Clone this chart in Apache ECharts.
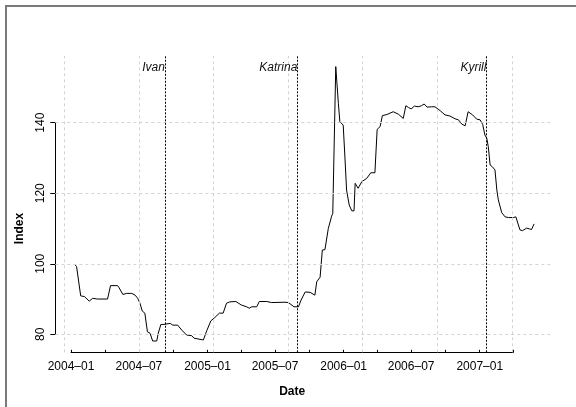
<!DOCTYPE html>
<html><head><meta charset="utf-8">
<script src="https://cdn.jsdelivr.net/npm/echarts@6/dist/echarts.min.js"></script>
<style>html,body{margin:0;padding:0;background:#fff}#c{width:576px;height:407px}</style>
</head><body><div id="c"></div>
<script>
// ---- data ----
const dates = [
 '2004-01-10','2004-01-16','2004-01-27','2004-02-06','2004-02-19','2004-02-28','2004-03-12','2004-04-08',
 '2004-04-16','2004-05-05','2004-05-09','2004-05-19','2004-05-29','2004-06-12','2004-06-21','2004-06-28',
 '2004-07-04','2004-07-10','2004-07-17','2004-07-24','2004-07-31','2004-08-07','2004-08-18','2004-08-22',
 '2004-08-29','2004-09-06','2004-09-23','2004-09-30','2004-10-13','2004-10-24','2004-11-06','2004-11-20',
 '2004-11-26','2004-12-21','2004-12-30','2005-01-10','2005-01-21','2005-02-02','2005-02-12','2005-02-21',
 '2005-03-02','2005-03-18','2005-04-02','2005-04-16','2005-04-23','2005-04-30','2005-05-13','2005-05-20',
 '2005-06-09','2005-06-22','2005-07-28','2005-08-06','2005-08-21','2005-09-02','2005-09-09','2005-09-20',
 '2005-10-03','2005-10-16','2005-10-21','2005-10-30','2005-11-05','2005-11-12','2005-11-21','2005-11-30',
 '2005-12-03','2005-12-11','2005-12-18','2005-12-22','2005-12-31','2006-01-05','2006-01-09','2006-01-16',
 '2006-01-23','2006-01-29','2006-02-01','2006-02-09','2006-02-19','2006-03-04','2006-03-15','2006-03-26',
 '2006-04-01','2006-04-09','2006-04-15','2006-04-27','2006-05-14','2006-05-28','2006-06-10','2006-06-17',
 '2006-06-24','2006-07-01','2006-07-10','2006-07-20','2006-07-29','2006-08-05','2006-08-13','2006-08-25',
 '2006-09-03','2006-09-17','2006-09-30','2006-10-13','2006-10-27','2006-11-05','2006-11-14','2006-11-23',
 '2006-12-01','2006-12-13','2006-12-24','2007-01-02','2007-01-09','2007-01-15','2007-01-20','2007-01-24',
 '2007-01-29','2007-02-04','2007-02-11','2007-02-16','2007-02-20','2007-02-24','2007-03-01','2007-03-10',
 '2007-03-19','2007-04-01','2007-04-08','2007-04-13','2007-04-19','2007-04-26','2007-05-07','2007-05-14',
 '2007-05-20','2007-05-27'
];
const values = [
 99.9, 99.2, 90.9, 90.7, 89.4, 90.2, 90.0, 90.0,
 93.8, 93.8, 93.2, 91.3, 91.6, 91.6, 91.1, 90.2,
 88.8, 86.6, 86.0, 80.7, 80.3, 78.1, 78.1, 80.3,
 82.8, 82.8, 83.1, 82.6, 82.6, 81.2, 79.8, 79.6,
 78.9, 78.4, 81.0, 83.8, 84.8, 86.0, 86.0, 88.8,
 89.2, 89.3, 88.3, 87.8, 87.4, 87.8, 87.8, 89.3,
 89.3, 89.0, 89.1, 89.0, 87.8, 87.8, 89.7, 92.0,
 91.9, 91.1, 94.9, 96.2, 103.9, 104.0, 110.0, 113.5,
 114.3, 155.9, 145.5, 140.3, 139.3, 129.4, 120.9, 116.7,
 115.0, 115.0, 122.8, 121.4, 123.3, 124.2, 125.8, 125.8,
 138.1, 138.9, 142.0, 142.3, 143.1, 142.4, 141.2, 144.8,
 144.3, 143.9, 144.7, 144.5, 144.8, 145.3, 144.4, 144.5,
 144.5, 143.4, 142.2, 141.9, 141.1, 140.8, 139.6, 139.1,
 143.1, 142.2, 141.0, 140.8, 139.5, 136.5, 135.6, 133.2,
 128.0, 127.5, 126.6, 120.9, 118.1, 118.1, 114.5, 113.3,
 113.1, 113.1, 113.3, 112.9, 109.6, 109.4, 110.1, 109.9,
 109.7, 111.3
];
const eventNames = ['Ivan', 'Katrina', 'Kyrill'];
const eventDates = ['2004-09-09', '2005-08-30', '2007-01-19'];
const xTickMonths = ['2004-01','2004-04','2004-07','2004-10','2005-01','2005-04','2005-07','2005-10',
                     '2006-01','2006-04','2006-07','2006-10','2007-01','2007-04'];
const xLabelMonths = ['2004-01','2004-07','2005-01','2005-07','2006-01','2006-07','2007-01'];
const yTicks = [80, 100, 120, 140];
const gridDays = [12400, 12600, 12800, 13000, 13200, 13400, 13600]; // grid() positions, days since 1970-01-01

// ---- helpers ----
const DAY = 86400000;
function toDay(s) {
  const p = s.split('-').map(Number);
  return Date.UTC(p[0], p[1] - 1, p[2] || 1) / DAY;
}
function fmtMonth(v) {
  const d = new Date(Math.round(v) * DAY);
  const m = d.getUTCMonth() + 1;
  return d.getUTCFullYear() + '\u2013' + (m < 10 ? '0' + m : m);
}
const FONT = 'Liberation Sans, Arial, Helvetica, sans-serif';
const seriesData = values.map((v, i) => [toDay(dates[i]), v]);

const chart = echarts.init(document.getElementById('c'), null, {renderer: 'canvas'});
chart.setOption({
  animation: false,
  backgroundColor: '#fff',
  textStyle: {fontFamily: FONT},
  graphic: [{
    type: 'rect', silent: true, z: 100,
    shape: {x: 6, y: 6, width: 640, height: 480},
    style: {fill: null, stroke: '#7a7a7a', lineWidth: 2}
  }],
  grid: [
    {left: 55.3, right: 24.3, top: 56, bottom: 54.7},
    {left: 71, right: 62.7, top: 122.7, bottom: 72.7}
  ],
  xAxis: [
    {gridIndex: 0, type: 'value', min: 12375.9, max: 13707.1, show: false},
    {gridIndex: 1, type: 'value', min: toDay(xTickMonths[0]), max: toDay(xTickMonths[xTickMonths.length - 1]),
     position: 'bottom', offset: 18,
     axisLine: {show: true, lineStyle: {color: '#000', width: 1}},
     axisTick: {show: true, inside: true, length: 2.5, lineStyle: {color: '#000'},
                customValues: xTickMonths.map(toDay)},
     axisLabel: {show: true, customValues: xLabelMonths.map(toDay), formatter: fmtMonth,
                 color: '#000', fontSize: 12, fontFamily: FONT, margin: 8},
     splitLine: {show: false},
     name: 'Date', nameLocation: 'middle', nameGap: 33,
     nameTextStyle: {color: '#000', fontSize: 12, fontWeight: 'bold', fontFamily: FONT}}
  ],
  yAxis: [
    {gridIndex: 0, type: 'value', min: 74.9, max: 158.9, show: false},
    {gridIndex: 1, type: 'value', min: yTicks[0], max: yTicks[yTicks.length - 1], interval: 20,
     position: 'left', offset: 15.7,
     axisLine: {show: true, lineStyle: {color: '#000', width: 1}},
     axisTick: {show: true, inside: false, length: 5, lineStyle: {color: '#000'}},
     axisLabel: {show: true, rotate: 90, color: '#000', fontSize: 12, fontFamily: FONT, margin: 9},
     splitLine: {show: false},
     name: 'Index', nameLocation: 'middle', nameGap: 30, nameRotate: 90,
     nameTextStyle: {color: '#000', fontSize: 12, fontWeight: 'bold', fontFamily: FONT}}
  ],
  series: [
    {
      type: 'line', xAxisIndex: 0, yAxisIndex: 0, data: [], z: 1, silent: true,
      markLine: {
        silent: true, symbol: 'none', animation: false,
        label: {show: false},
        lineStyle: {color: '#d3d3d3', width: 1, type: [3, 3]},
        data: gridDays.map(d => ({xAxis: d})).concat(yTicks.map(v => ({yAxis: v})))
      }
    },
    {
      type: 'line', xAxisIndex: 0, yAxisIndex: 0, data: [], z: 2, silent: true,
      markLine: {
        silent: true, symbol: 'none', animation: false,
        label: {show: false},
        lineStyle: {color: '#000', width: 1, type: [2, 1.5]},
        data: eventDates.map(d => ({xAxis: toDay(d)}))
      },
      markPoint: {
        silent: true, symbol: 'circle', symbolSize: 0, animation: false,
        label: {show: true, position: 'left', distance: 0, color: '#111', fontSize: 12,
                fontStyle: 'italic', fontFamily: FONT, formatter: p => p.name},
        data: eventNames.map((n, i) => ({name: n, coord: [toDay(eventDates[i]), 155.6]}))
      }
    },
    {
      type: 'line', xAxisIndex: 0, yAxisIndex: 0, z: 3,
      data: seriesData, showSymbol: false, symbol: 'none',
      lineStyle: {color: '#000', width: 1}
    },
    {type: 'line', xAxisIndex: 1, yAxisIndex: 1, data: []}
  ]
});
</script>
</body></html>
